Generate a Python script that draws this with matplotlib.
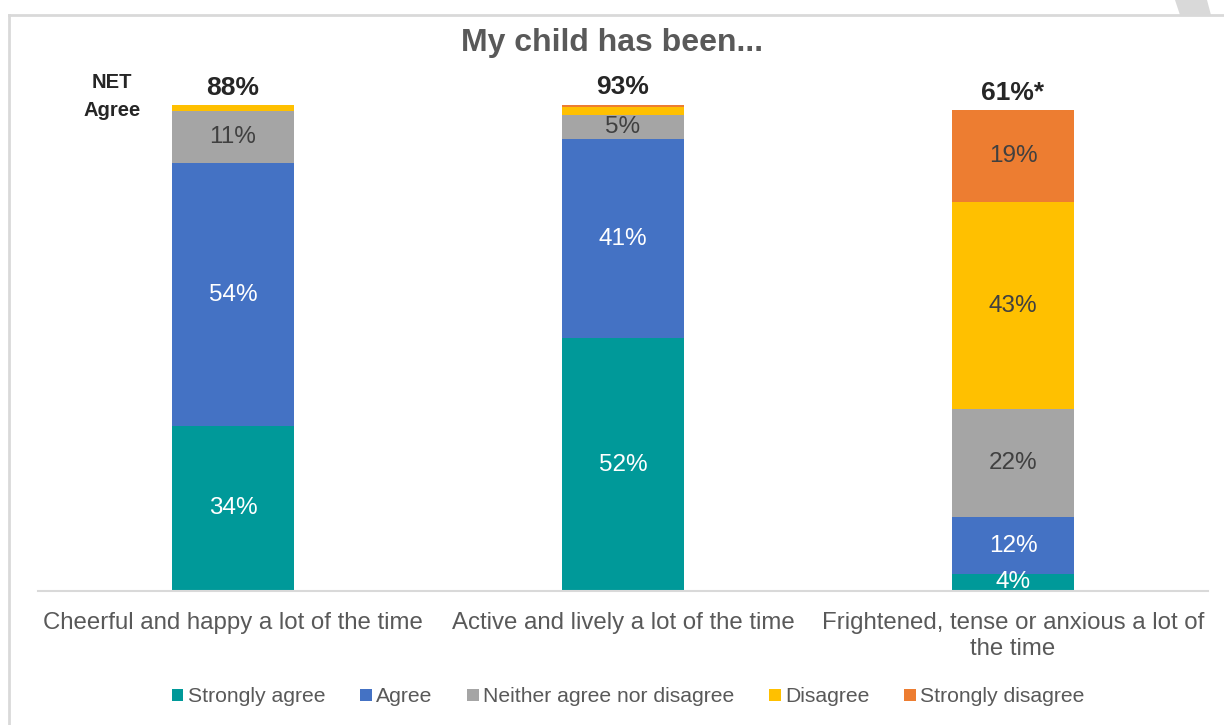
import matplotlib.pyplot as plt
from matplotlib.patches import Patch, Polygon
from matplotlib.lines import Line2D

plt.rcParams['font.family'] = ['Liberation Sans', 'DejaVu Sans']

categories = ['Cheerful and happy a lot of the time',
              'Active and lively a lot of the time',
              'Frightened, tense or anxious a lot of\nthe time']
series = ['Strongly agree', 'Agree', 'Neither agree nor disagree',
          'Disagree', 'Strongly disagree']
strongly_agree = [34, 52, 3.5]
agree = [54, 41, 11.7]
neither = [10.8, 5, 22.2]
disagree = [1.2, 1.6, 42.6]
strongly_disagree = [0, 0.6, 19]
net_labels = ['88%', '93%', '61%*']

colors = ['#009999', '#4472C4', '#A5A5A5', '#FFC000', '#ED7D31']
text_colors = ['white', 'white', '#404040', '#404040', '#404040']

W, H = 1224, 725
fig = plt.figure(figsize=(W / 100, H / 100), dpi=100)
ax = fig.add_axes([38 / W, 134 / H, 1170 / W, 486 / H])

x = list(range(len(categories)))
bottoms = [0] * len(categories)
for vals, col, tcol in zip([strongly_agree, agree, neither, disagree, strongly_disagree],
                           colors, text_colors):
    ax.bar(x, vals, bottom=bottoms, width=0.315, color=col, linewidth=0)
    for i, v in enumerate(vals):
        if v >= 3:
            ax.text(i, bottoms[i] + v / 2, f'{round(v)}%', ha='center', va='center',
                    fontsize=17.5, color=tcol, clip_on=False)
    bottoms = [b + v for b, v in zip(bottoms, vals)]

for i, lab in enumerate(net_labels):
    ax.text(i, bottoms[i] + 1.0, lab, ha='center', va='bottom', fontsize=19,
            fontweight='bold', color='#262626')
ax.text(-0.31, 101.8, 'NET\nAgree', ha='center', va='center', fontsize=14.5,
        fontweight='bold', color='#262626', linespacing=1.6)

ax.set_xlim(-0.5, 2.5)
ax.set_ylim(0, 100)
ax.set_xticks(x)
ax.set_xticklabels(categories, fontsize=17.3, color='#595959', linespacing=1.25)
ax.tick_params(axis='x', length=0, pad=15)
ax.set_yticks([])
for s in ['top', 'right', 'left']:
    ax.spines[s].set_visible(False)
ax.spines['bottom'].set_color('#D9D9D9')
ax.spines['bottom'].set_linewidth(1.5)

fig.text(0.5, 1 - 43 / H, 'My child has been...', ha='center', va='center',
         fontsize=23, fontweight='bold', color='#595959')

handles = [Patch(facecolor=c, edgecolor='none') for c in colors]
fig.legend(handles, series, loc='center', bbox_to_anchor=(0.5 + 16 / W, 1 - 697 / H), ncol=5,
           frameon=False, fontsize=15.2, handlelength=0.55, handleheight=0.55,
           handletextpad=0.2, columnspacing=1.65, labelcolor='#595959')

# frame and corner decoration
fig.add_artist(Line2D([9 / W, 9 / W], [0, 1 - 15 / H], transform=fig.transFigure,
                      color='#D9D9D9', lw=2))
fig.add_artist(Line2D([9 / W, 1], [1 - 15 / H, 1 - 15 / H], transform=fig.transFigure,
                      color='#D9D9D9', lw=2))
fig.add_artist(Polygon([[1175 / W, 1], [1207 / W, 1], [1211 / W, 1 - 15 / H],
                        [1180 / W, 1 - 15 / H]], closed=True, transform=fig.transFigure,
                       facecolor='#D9D9D9', edgecolor='none'))

plt.savefig('out.png', dpi=100)
